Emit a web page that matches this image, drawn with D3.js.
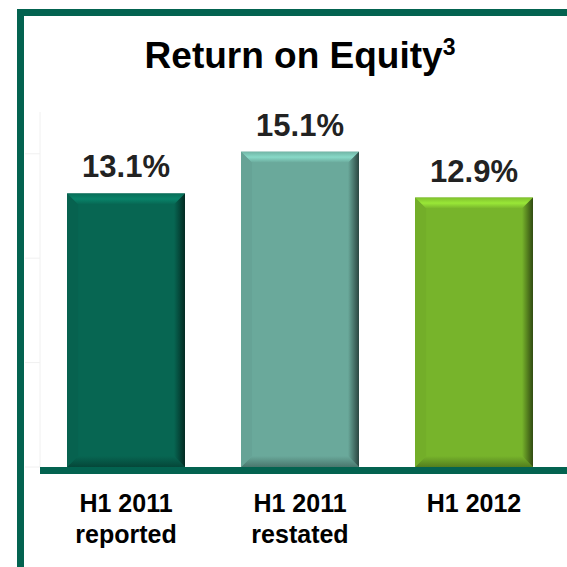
<!DOCTYPE html>
<html>
<head>
<meta charset="utf-8">
<script src="https://cdn.jsdelivr.net/npm/d3@7"></script>
<style>
  html, body { margin: 0; padding: 0; background: #fff; }
  svg { display: block; font-family: "Liberation Sans", Arial, sans-serif; }
</style>
</head>
<body>
<div id="chart"></div>
<script>
const categories = ["H1 2011 reported", "H1 2011 restated", "H1 2012"];
const catLines = [["H1 2011", "reported"], ["H1 2011", "restated"], ["H1 2012"]];
const values = [13.1, 15.1, 12.9];
const labels = ["13.1%", "15.1%", "12.9%"];
const gridTicks = [0, 5, 10, 15];
const colors = ["#076652", "#6aa99b", "#77b42b"];

const W = 567, H = 567;
const svg = d3.select("#chart").append("svg").attr("width", W).attr("height", H);
const frameColor = "#036350";

// frame
svg.append("rect").attr("x", 17).attr("y", 9).attr("width", W).attr("height", 7).attr("fill", frameColor);
svg.append("rect").attr("x", 17).attr("y", 9).attr("width", 7).attr("height", H).attr("fill", frameColor);

const x = d3.scaleBand().domain(categories).range([39, 561]).paddingInner(0.322).paddingOuter(0.161);
const y = d3.scaleLinear().domain([0, 17]).range([467, 112]);

// faint gridlines
svg.append("g").selectAll("line").data(gridTicks).join("line")
  .attr("x1", 25).attr("x2", 40)
  .attr("y1", d => y(d)).attr("y2", d => y(d))
  .attr("stroke", "#f0f0f0");
svg.append("line").attr("x1", 40).attr("x2", 40).attr("y1", y(17)).attr("y2", y(0))
  .attr("stroke", "#f0f0f0");

// title
const title = svg.append("text").attr("x", 300).attr("y", 68).attr("text-anchor", "middle")
  .style("font-size", "37px").style("font-weight", "bold").attr("fill", "#000");
title.append("tspan").text("Return on Equity");
title.append("tspan").text("3").attr("dy", -13).style("font-size", "23px");

const defs = svg.append("defs");
colors.forEach((c, i) => {
  const g = defs.append("linearGradient").attr("id", "rg" + i).attr("x1", 0).attr("x2", 1).attr("y1", 0).attr("y2", 0);
  g.append("stop").attr("offset", 0).attr("stop-color", c);
  g.append("stop").attr("offset", 1).attr("stop-color", d3.color(c).darker(2.5));
  const t = defs.append("linearGradient").attr("id", "tg" + i).attr("x1", 0).attr("x2", 0).attr("y1", 0).attr("y2", 1);
  t.append("stop").attr("offset", 0).attr("stop-color", d3.color(c).brighter(0.2));
  t.append("stop").attr("offset", 0.5).attr("stop-color", d3.color(c).brighter(0.7));
  t.append("stop").attr("offset", 1).attr("stop-color", c);
  const b = defs.append("linearGradient").attr("id", "bg" + i).attr("x1", 0).attr("x2", 0).attr("y1", 0).attr("y2", 1);
  b.append("stop").attr("offset", 0).attr("stop-color", c);
  b.append("stop").attr("offset", 1).attr("stop-color", d3.color(c).darker(1));
});

const bev = 11;
const bars = svg.append("g").selectAll("g").data(categories).join("g");
bars.each(function (d, i) {
  const g = d3.select(this);
  const x0 = x(d), x1 = x(d) + x.bandwidth();
  const y0 = y(values[i]), y1 = y(0);
  g.append("rect").attr("x", x0).attr("y", y0).attr("width", x1 - x0).attr("height", y1 - y0).attr("fill", colors[i]);
  // top bevel
  g.append("polygon").attr("points", `${x0},${y0} ${x1},${y0} ${x1 - bev},${y0 + bev} ${x0 + bev},${y0 + bev}`)
    .attr("fill", `url(#tg${i})`);
  // bottom bevel
  g.append("polygon").attr("points", `${x0},${y1} ${x1},${y1} ${x1 - bev},${y1 - bev} ${x0 + bev},${y1 - bev}`)
    .attr("fill", `url(#bg${i})`);
  // right bevel
  g.append("polygon").attr("points", `${x1},${y0} ${x1},${y1} ${x1 - bev},${y1 - bev} ${x1 - bev},${y0 + bev}`)
    .attr("fill", `url(#rg${i})`);
  // left bevel
  g.append("polygon").attr("points", `${x0},${y0} ${x0 + bev},${y0 + bev} ${x0 + bev},${y1 - bev} ${x0},${y1}`)
    .attr("fill", d3.color(colors[i]).darker(0.1));
  g.append("text").attr("x", (x0 + x1) / 2).attr("y", y0 - 16).attr("text-anchor", "middle")
    .style("font-size", "31px").style("font-weight", "bold").attr("fill", "#222").text(labels[i]);
  const t = g.append("text").attr("x", (x0 + x1) / 2).attr("y", 512).attr("text-anchor", "middle")
    .style("font-size", "25px").style("font-weight", "bold").attr("fill", "#000");
  catLines[i].forEach((l, k) => t.append("tspan").attr("x", (x0 + x1) / 2).attr("dy", k ? 31 : 0).text(l));
});

// axis baseline
svg.append("rect").attr("x", 40).attr("y", y(0)).attr("width", W - 40).attr("height", 7).attr("fill", frameColor);
</script>
</body>
</html>
